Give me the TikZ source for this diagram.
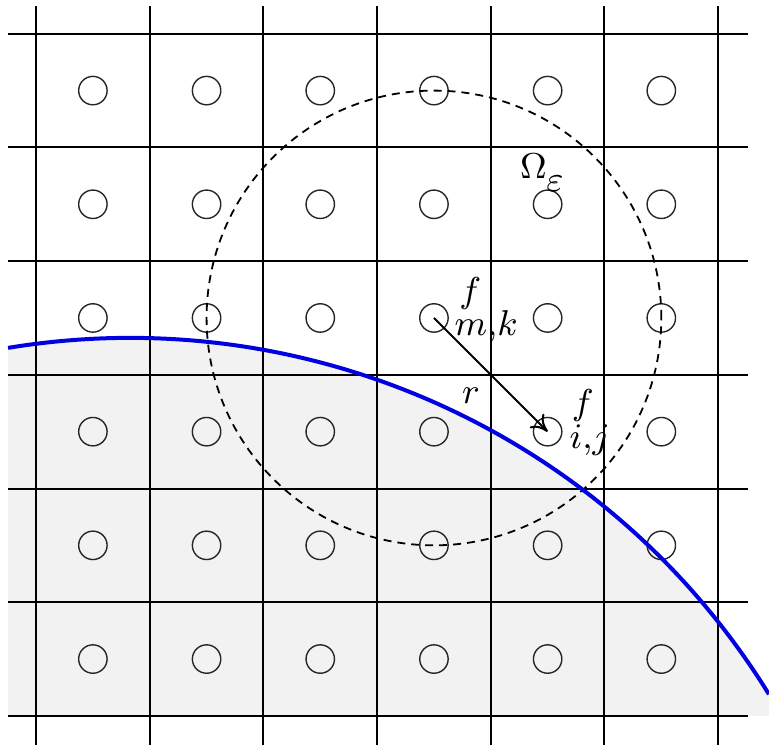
\documentclass[tikz,border=0pt]{standalone}
\usetikzlibrary{arrows.meta}
\definecolor{curveblue}{RGB}{0,0,225}
\begin{document}
\begin{tikzpicture}[every node/.style={font=\small},
    site/.style={circle,draw=black!85,line width=0.35pt,minimum size=0.25cm,inner sep=0pt},
    lbl/.style={anchor=base,inner sep=0pt}]
    \useasboundingbox (-0.317,-0.264) rectangle (6.447,6.297);
    % region below the boundary
    \fill[black!5] (-0.246,0) -- (-0.246,3.237) arc[start angle=99.35,end angle=31.7,radius=6.605] -- (6.447,0) -- cycle;
    % grid
    \foreach \i in {0,...,6} {
        \draw[line width=0.5pt] (\i,-0.255) -- (\i,6.245);
        \draw[line width=0.5pt] (-0.246,\i) -- (6.262,\i);
    }
    % cell centres
    \foreach \i in {0,...,5}
        \foreach \j in {0,...,5}
            \node[site] (c-\i-\j) at (\i+0.5,\j+0.5) {};
    \draw[dash pattern=on 2pt off 1.5pt,line width=0.45pt] (c-3-3.center) circle (2);
    \draw[curveblue,line width=1pt] (-0.246,3.237) arc[start angle=99.35,end angle=31.7,radius=6.605];
    \draw[-{To[length=4pt,width=5pt]},line width=0.5pt] (c-3-3.center) -- (c-4-2.center);
    \node[lbl] (fmk) at (3.82,3.64) {$f$};
    \node[lbl] (mk) at (3.96,3.35) {$m{,}k$};
    \node[lbl] (fij) at (4.81,2.65) {$f$};
    \node[lbl] (ij) at (4.87,2.35) {$i{,}j$};
    \node (r) at (3.826,2.814) {$r$};
    \node[inner sep=0pt] (om) at (4.376,4.837) {$\Omega$};
    \node[inner sep=0pt] (eps) at (4.565,4.683) {$\varepsilon$};
\end{tikzpicture}
\end{document}
